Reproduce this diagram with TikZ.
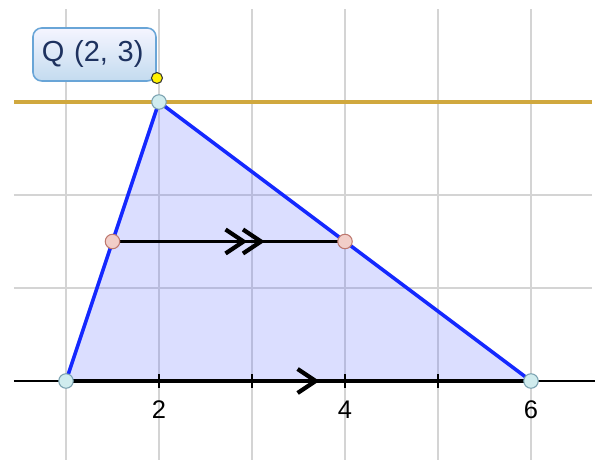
\documentclass[tikz,border=0pt]{standalone}
\usepackage{fontspec}
\setmainfont{Liberation Sans}
\usetikzlibrary{arrows.meta,decorations.markings}
\definecolor{sideblue}{RGB}{20,40,255}
\definecolor{gridgray}{RGB}{212,212,212}
\definecolor{goldline}{RGB}{208,168,62}
\definecolor{vertfill}{RGB}{208,236,238}
\definecolor{vertdraw}{RGB}{120,160,175}
\definecolor{midfill}{RGB}{242,206,200}
\definecolor{middraw}{RGB}{190,120,110}
\definecolor{boxdraw}{RGB}{105,165,215}
\definecolor{boxtext}{RGB}{30,50,95}
\tikzset{
 gridline/.style={draw=gridgray,line width=.6pt},
 side/.style={draw=sideblue,line width=2pt,line join=round},
 axisline/.style={line width=1.1pt},
 parallelseg/.style={line width=1.8pt},
 onechevron/.style={postaction={decorate},decoration={markings,mark=at position .545 with {\arrow{Straight Barb[length=3.6mm,width=4.8mm,line width=2.4pt]}}}},
 twochevron/.style={postaction={decorate},decoration={markings,mark=at position .58 with {\arrow{Straight Barb[length=3.6mm,width=4.8mm,line width=2.4pt]}},mark=at position .655 with {\arrow{Straight Barb[length=3.6mm,width=4.8mm,line width=2.4pt]}}}},
 vertexpt/.style={circle,draw=vertdraw,fill=vertfill,line width=.6pt,minimum size=.29cm,inner sep=0},
 midpt/.style={circle,draw=middraw,fill=midfill,line width=.6pt,minimum size=.29cm,inner sep=0},
 freept/.style={circle,draw=black!80,fill=yellow,line width=.6pt,minimum size=.22cm,inner sep=0},
 ticklabel/.style={font=\fontsize{14.5}{16}\selectfont,inner sep=0},
 pointlabel/.style={rounded corners=5pt,draw=boxdraw,line width=.9pt,top color=blue!4,bottom color=boxdraw!40,text width=2.1cm,align=left,inner xsep=.18cm,minimum height=1.06cm,text=boxtext,font=\fontsize{16.5}{18}\selectfont}
}
\begin{document}
\begin{tikzpicture}[x=1.86cm,y=1.86cm]
\path[use as bounding box] (0.2903,-0.8495) rectangle (6.7527,4.0968);
% grid
\foreach \i in {1,...,6} \draw[gridline] (\i,-0.8495) -- (\i,4);
\foreach \j in {1,2,3} \draw[gridline] (0.44,\j) -- (6.656,\j);
% points
\coordinate (a) at (1,0);
\coordinate (b) at (2,3);
\coordinate (c) at (6,0);
\coordinate (m) at (1.5,1.5);
\coordinate (n) at (4,1.5);
\coordinate (xleft) at (0.44,0);
\coordinate (xright) at (6.69,0);
\coordinate (hleft) at (0.44,3);
\coordinate (hright) at (6.656,3);
\fill[sideblue!70!white,fill opacity=.22] (a) -- (b) -- (c) -- cycle;
\draw[goldline,line width=2.2pt] (hleft) -- (hright);
\draw[axisline] (xleft) -- (xright);
\foreach \i in {2,...,5} \draw[axisline] (\i,-0.075) -- (\i,0.075);
\node[ticklabel] (t2) at (2,-0.31) {2};
\node[ticklabel] (t4) at (4,-0.31) {4};
\node[ticklabel] (t6) at (6,-0.31) {6};
\draw[side] (a) -- (b) -- (c);
\draw[parallelseg,onechevron] (a) -- (c);
\draw[parallelseg,twochevron] (m) -- (n);
\node[vertexpt] (A) at (a) {};
\node[vertexpt] (B) at (b) {};
\node[vertexpt] (C) at (c) {};
\node[midpt] (M) at (m) {};
\node[midpt] (N) at (n) {};
\node[pointlabel] (Qlabel) at (1.306,3.511) {Q (2, 3)};
\node[freept] (Q) at (1.978,3.258) {};
\end{tikzpicture}
\end{document}
